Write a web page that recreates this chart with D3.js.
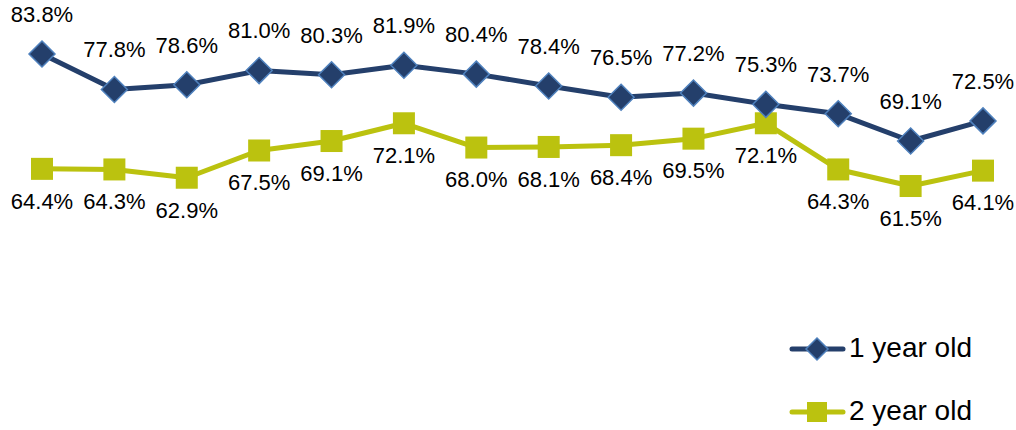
<!DOCTYPE html>
<html>
<head>
<meta charset="utf-8">
<script src="https://cdn.jsdelivr.net/npm/d3@7"></script>
<style>
  body { margin: 0; background: #fff; }
  text { font-family: "Liberation Sans", Arial, sans-serif; fill: #000; }
</style>
</head>
<body>
<div id="chart"></div>
<script>
var svgWidth = 1016;
var svgHeight = 430;

// data
var categories = d3.range(14);
var oneYear = [83.8, 77.8, 78.6, 81.0, 80.3, 81.9, 80.4, 78.4, 76.5, 77.2, 75.3, 73.7, 69.1, 72.5];
var twoYear = [64.4, 64.3, 62.9, 67.5, 69.1, 72.1, 68.0, 68.1, 68.4, 69.5, 72.1, 64.3, 61.5, 64.1];
var seriesNames = ["1 year old", "2 year old"];

var navy = "#243f6b";
var navyEdge = "#4f81bd";
var olive = "#bbc20f";

var svg = d3.select("#chart")
  .append("svg")
  .attr("width", svgWidth)
  .attr("height", svgHeight);

var xScale = d3.scalePoint()
  .domain(categories)
  .range([42, 983]);

var yScale = d3.scaleLinear()
  .domain([60, 85])
  .range([194.9, 46.9]);

var line = d3.line()
  .x((d, i) => xScale(i))
  .y(d => yScale(d));

var fmt = d => d.toFixed(1) + "%";

// 2 year old series
svg.append("path")
  .datum(twoYear)
  .attr("d", line)
  .attr("fill", "none")
  .attr("stroke", olive)
  .attr("stroke-width", 5)
  .attr("stroke-linejoin", "round");

svg.selectAll("rect.sq")
  .data(twoYear)
  .enter()
  .append("rect")
  .attr("class", "sq")
  .attr("x", (d, i) => xScale(i) - 11)
  .attr("y", d => yScale(d) - 11)
  .attr("width", 22)
  .attr("height", 22)
  .attr("fill", olive);

svg.selectAll("text.lb2")
  .data(twoYear)
  .enter()
  .append("text")
  .attr("class", "lb2")
  .attr("x", (d, i) => xScale(i))
  .attr("y", d => yScale(d) + 34)
  .attr("text-anchor", "middle")
  .attr("dominant-baseline", "middle")
  .attr("font-size", "22px")
  .text(fmt);

// 1 year old series
svg.append("path")
  .datum(oneYear)
  .attr("d", line)
  .attr("fill", "none")
  .attr("stroke", navy)
  .attr("stroke-width", 5)
  .attr("stroke-linejoin", "round");

var diamond = "M0,-13L13,0L0,13L-13,0Z";

svg.selectAll("path.dm")
  .data(oneYear)
  .enter()
  .append("path")
  .attr("class", "dm")
  .attr("d", diamond)
  .attr("transform", (d, i) => `translate(${xScale(i)},${yScale(d)})`)
  .attr("fill", navy)
  .attr("stroke", navyEdge)
  .attr("stroke-width", 1.5);

svg.selectAll("text.lb1")
  .data(oneYear)
  .enter()
  .append("text")
  .attr("class", "lb1")
  .attr("x", (d, i) => xScale(i))
  .attr("y", d => yScale(d) - 38)
  .attr("text-anchor", "middle")
  .attr("dominant-baseline", "middle")
  .attr("font-size", "22px")
  .text(fmt);

// legend
var legend = svg.append("g");
var legendY = [349, 412];

seriesNames.forEach(function(name, i) {
  var g = legend.append("g").attr("transform", `translate(0, ${legendY[i]})`);
  var col = i === 0 ? navy : olive;
  g.append("line")
    .attr("x1", 792).attr("x2", 843)
    .attr("y1", 0).attr("y2", 0)
    .attr("stroke", col)
    .attr("stroke-width", 5)
    .attr("stroke-linecap", "round");
  if (i === 0) {
    g.append("path")
      .attr("d", "M0,-11L11,0L0,11L-11,0Z")
      .attr("transform", "translate(817,0)")
      .attr("fill", navy)
      .attr("stroke", navyEdge)
      .attr("stroke-width", 1.5);
  } else {
    g.append("rect")
      .attr("x", 807).attr("y", -10)
      .attr("width", 20).attr("height", 20)
      .attr("fill", olive);
  }
  g.append("text")
    .attr("x", 849)
    .attr("y", 1)
    .attr("dominant-baseline", "middle")
    .attr("font-size", "28px")
    .text(name);
});
</script>
</body>
</html>
